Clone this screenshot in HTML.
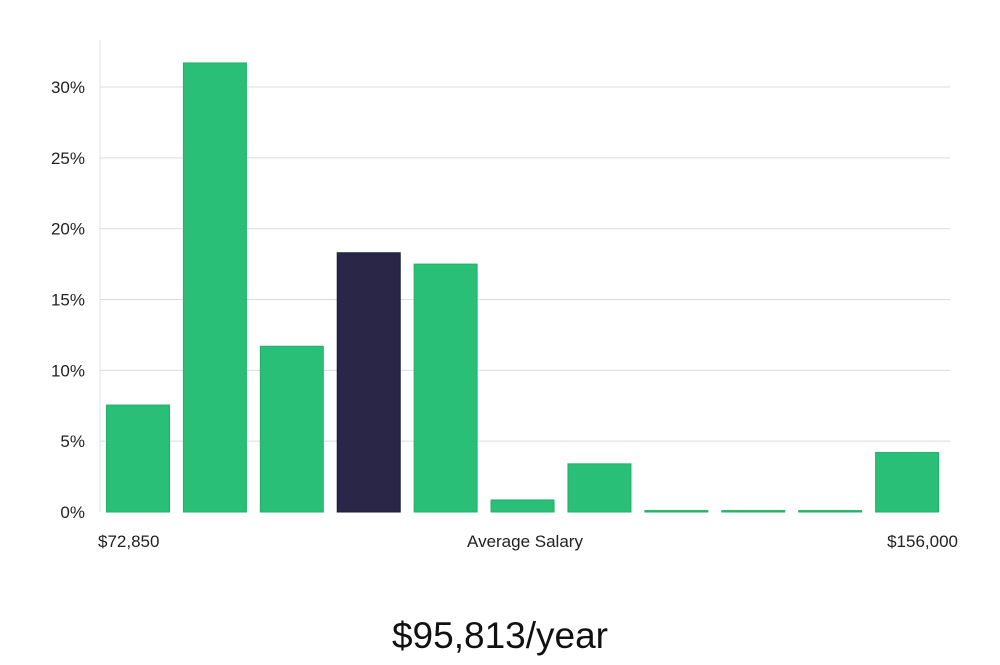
<!DOCTYPE html>
<html><head><meta charset="utf-8"><style>
body{margin:0;background:#fff;width:1000px;height:660px;overflow:hidden;font-family:"Liberation Sans","DejaVu Sans",sans-serif}
</style></head><body>
<svg id="chart" width="1000" height="660" xmlns="http://www.w3.org/2000/svg"></svg>
<script>
const categories=["b1","b2","b3","b4","b5","b6","b7","b8","b9","b10","b11"];
const values=[7.55,31.7,11.7,18.3,17.5,0.85,3.4,0.1,0.1,0.1,4.2];
const highlight=[false,false,false,true,false,false,false,false,false,false,false];
const yTicks=[0,5,10,15,20,25,30];
const yTickLabels=["0%","5%","10%","15%","20%","25%","30%"];
const xLabels=["$72,850","Average Salary","$156,000"];
const titleText="$95,813/year";

const NS="http://www.w3.org/2000/svg";
const svg=document.getElementById('chart');
const X0=100,X1=950,Y0=512,PX5=70.83;
const y=v=>Y0-v*PX5/5;
const slot=(X1-X0-4)/categories.length;
const x=i=>X0+7+i*slot-0.5;
function mk(t,a){const e=document.createElementNS(NS,t);for(const k in a)e.setAttribute(k,a[k]);svg.appendChild(e);return e;}
yTicks.forEach((t,i)=>{
  if(t>0){const g=mk('line',{x1:X0,x2:X1,y1:y(t),y2:y(t),stroke:'#dcdcdc','stroke-width':1});
  
  }
  const l=mk('text',{x:85,y:y(t)+6,'text-anchor':'end','font-size':17,fill:'#222'});
  l.textContent=yTickLabels[i];
  
  
});
const ax=mk('line',{x1:X0,x2:X0,y1:40,y2:Y0,stroke:'#e0e0e0','stroke-width':1});


values.forEach((v,i)=>{
  const h=Math.max(Y0-y(v),1);
  const r=mk('rect',{x:x(i),y:Y0-h,width:63,height:h,fill:highlight[i]?'#2a2647':'#2abf76',stroke:highlight[i]?'#1d1a3a':'#22b06a','stroke-width':1});
  
  
});
const xl=[[98,'start'],[525,'middle'],[958,'end']];
xLabels.forEach((s,i)=>{
  const t=mk('text',{x:xl[i][0],y:547,'text-anchor':xl[i][1],'font-size':17,fill:'#222'});
  t.textContent=s;
  
  
});
const tt=mk('text',{x:500,y:648,'text-anchor':'middle','font-size':37,'font-weight':300,fill:'#111'});
tt.textContent=titleText;


</script>
</body></html>
